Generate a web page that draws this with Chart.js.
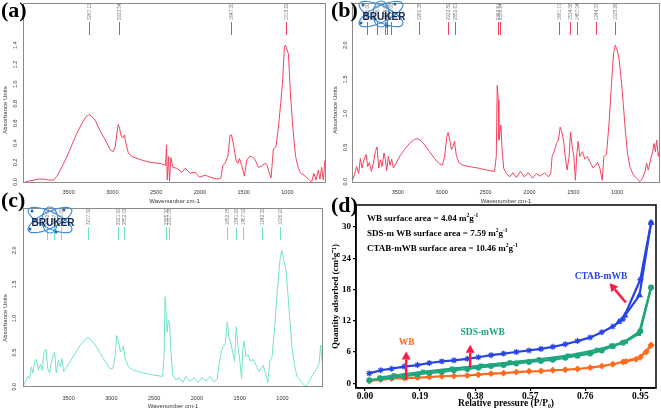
<!DOCTYPE html>
<html><head><meta charset="utf-8">
<script src="https://cdn.jsdelivr.net/npm/chart.js@4"></script>
<style>
html,body{margin:0;padding:0;background:#fff;}
#wrap{position:relative;width:661px;height:410px;overflow:hidden;background:#fff;}
canvas{position:absolute;}
.lt{position:absolute;font:bold 22px "Liberation Serif","Times New Roman",serif;line-height:22px;color:#000;z-index:5;}
</style></head><body>
<div id="wrap">
<canvas id="ca" width="330" height="205" style="left:0;top:0"></canvas>
<canvas id="cb" width="331" height="205" style="left:330px;top:0"></canvas>
<canvas id="cc" width="330" height="205" style="left:0;top:205px"></canvas>
<canvas id="cd" width="331" height="210" style="left:330px;top:200px"></canvas>
<div class="lt" style="left:1px;top:-1px">(a)</div>
<div class="lt" style="left:331px;top:-1px">(b)</div>
<div class="lt" style="left:1px;top:189px">(c)</div>
<div class="lt" style="left:331px;top:194px">(d)</div>
</div>
<script>
// ---------- FTIR (a) ----------
const wnA = [4021,3955,3899,3842,3785,3728,3671,3633,3595,3557,3519,3462,3405,3347,3298,3271,3245,3195,3138,3081,3024,2994,2967,2948,2933,2918,2899,2880,2861,2842,2815,2777,2682,2568,2453,2392,2381,2373,2358,2347,2332,2309,2263,2206,2168,2111,2054,2005,1940,1883,1807,1761,1738,1712,1681,1654,1639,1617,1586,1567,1548,1522,1491,1465,1434,1408,1370,1332,1301,1256,1237,1206,1187,1160,1130,1103,1077,1054,1035,1023,1004,989,978,966,944,925,906,875,848,810,761,723,697,674,647,628,609,590,571,559];
const absA = [-0.01,0.01,0.02,0.03,0.03,0.02,0.02,0.06,0.12,0.19,0.26,0.38,0.50,0.60,0.67,0.69,0.68,0.63,0.52,0.43,0.33,0.31,0.36,0.50,0.59,0.55,0.47,0.45,0.48,0.38,0.29,0.26,0.23,0.20,0.19,0.17,0.38,0.02,0.26,0.01,0.25,0.15,0.14,0.10,0.14,0.09,0.10,0.05,0.07,0.05,0.03,0.04,0.17,0.19,0.26,0.48,0.48,0.39,0.22,0.19,0.24,0.17,0.06,0.22,0.26,0.26,0.23,0.15,0.16,0.19,0.18,0.09,0.04,0.34,0.36,0.56,0.80,1.04,1.38,1.40,1.35,1.31,1.13,0.91,0.63,0.43,0.26,0.14,0.09,0.07,0.03,0.00,0.09,0.02,0.12,0.03,0.15,0.02,0.22,0.15];
const peaksA = [3267.13, 2923.54, 1647.30, 1018.29];
// ---------- FTIR (b) ----------
const wnB = [4021,3994,3968,3945,3926,3907,3884,3861,3842,3823,3800,3777,3755,3736,3717,3698,3679,3656,3641,3626,3607,3588,3569,3550,3519,3473,3424,3367,3309,3279,3245,3195,3138,3081,3024,2994,2967,2941,2926,2907,2888,2872,2853,2834,2804,2758,2682,2587,2492,2397,2378,2367,2355,2348,2336,2325,2313,2294,2263,2225,2187,2149,2103,2058,2012,1966,1920,1875,1829,1784,1757,1742,1719,1692,1670,1650,1631,1612,1593,1571,1548,1532,1513,1494,1476,1460,1445,1426,1396,1369,1342,1312,1274,1248,1225,1198,1171,1152,1122,1091,1065,1042,1023,1000,977,954,932,905,882,856,818,780,741,711,684,665,646,619,596,581,566,551,532,513];
const absB = [0.00,0.10,0.22,0.12,0.34,0.20,0.32,0.40,0.22,0.28,0.15,0.27,0.44,0.51,0.20,0.32,0.22,0.42,0.33,0.16,0.37,0.24,0.33,0.20,0.27,0.38,0.47,0.56,0.62,0.63,0.61,0.54,0.44,0.34,0.26,0.24,0.36,0.66,0.72,0.61,0.47,0.51,0.59,0.39,0.28,0.24,0.22,0.20,0.17,0.15,0.37,1.41,1.20,0.61,0.71,0.83,0.51,0.20,0.12,0.07,0.13,0.06,0.15,0.07,0.13,0.05,0.12,0.08,0.13,0.07,0.12,0.37,0.44,0.56,0.61,0.80,0.73,0.61,0.37,0.17,0.37,0.73,0.51,0.37,0.02,0.41,0.59,0.37,0.44,0.33,0.37,0.29,0.20,0.24,0.28,0.20,0.02,0.37,0.40,0.90,1.44,1.88,2.00,1.93,1.78,1.49,1.15,0.71,0.41,0.22,0.10,0.05,0.00,0.05,0.15,0.27,0.17,0.33,0.44,0.56,0.44,0.61,0.37,0.49];
const peaksB = [3850, 3736, 3648, 3622, 3572, 3260.38, 2922.89, 2852.61, 2362.51, 2330.24, 1661.71, 1534.06, 1457.04, 1244.33, 1025.26];
// ---------- FTIR (c) ----------
const wnC = [4033,4005,3978,3955,3935,3916,3897,3877,3854,3830,3807,3788,3764,3745,3722,3698,3679,3663,3644,3621,3597,3578,3558,3527,3481,3422,3364,3306,3278,3247,3189,3131,3072,3014,2983,2956,2936,2917,2893,2874,2859,2839,2800,2742,2625,2509,2400,2384,2372,2361,2349,2334,2322,2306,2283,2244,2205,2166,2128,2081,2034,1988,1941,1894,1848,1801,1762,1739,1715,1692,1669,1645,1626,1607,1583,1560,1540,1521,1498,1478,1463,1447,1428,1400,1373,1342,1311,1272,1245,1225,1198,1171,1148,1121,1089,1058,1027,1008,985,961,938,915,887,860,829,779,728,689,654,623,596,572,553,538,526];
const absC = [0.00,0.07,0.15,0.12,0.29,0.20,0.37,0.40,0.24,0.33,0.24,0.51,0.55,0.27,0.20,0.37,0.47,0.51,0.20,0.39,0.29,0.41,0.22,0.28,0.37,0.49,0.61,0.69,0.72,0.70,0.61,0.49,0.37,0.26,0.27,0.44,0.75,0.66,0.51,0.54,0.60,0.41,0.29,0.24,0.20,0.17,0.15,0.46,1.32,1.10,0.80,0.98,0.95,0.56,0.17,0.10,0.13,0.06,0.15,0.08,0.13,0.06,0.13,0.08,0.15,0.07,0.11,0.34,0.51,0.59,0.63,0.95,0.73,0.66,0.51,0.37,0.88,0.61,0.37,0.12,0.56,0.67,0.44,0.47,0.37,0.40,0.32,0.22,0.27,0.31,0.20,0.06,0.37,0.44,0.90,1.44,1.88,2.00,1.85,1.73,1.39,1.00,0.56,0.32,0.15,0.07,0.00,0.07,0.16,0.22,0.27,0.34,0.61,0.37,0.44];
const peaksC = [3752, 3667, 3585, 3277.32, 2921.90, 2852.02, 2365.30, 2327.05, 1652.75, 1541.29, 1457.02, 1242.32, 1026.90];
const irXTicks = [3500, 3000, 2500, 2000, 1500, 1000];
const irYTicksA = [0, 0.2, 0.4, 0.6, 0.8, 1.0, 1.2, 1.4];
const irYTicksBC = [0, 0.5, 1.0, 1.5, 2.0];
// ---------- BET (d) ----------
const pAds = [0.015,0.054,0.092,0.135,0.181,0.222,0.265,0.307,0.353,0.391,0.435,0.478,0.522,0.566,0.607,0.648,0.691,0.733,0.777,0.817,0.855,0.890,0.950,0.987];
const ctabAds = [1.9,2.5,2.8,3.2,3.5,3.9,4.2,4.4,4.7,5.0,5.4,5.7,6.0,6.3,6.6,7.0,7.5,8.1,8.8,9.8,10.9,12.3,19.9,30.8];
const sdsAds = [0.6,0.9,1.1,1.35,1.7,2.0,2.2,2.5,2.75,3.0,3.3,3.5,3.8,4.1,4.3,4.5,4.9,5.3,5.7,6.3,7.1,7.8,10.0,18.4];
const wbAds = [0.45,0.7,0.9,1.0,1.1,1.2,1.35,1.4,1.5,1.65,1.85,1.95,2.15,2.3,2.35,2.5,2.6,2.75,3.0,3.3,3.65,4.1,5.0,7.3];
const ctabDesP = [0.987,0.947,0.897,0.876];
const ctabDes = [30.8,16.9,13.0,11.8];
const sdsDesP = [0.987,0.945,0.90,0.85,0.80,0.70,0.60,0.50,0.40,0.30,0.20,0.10,0.05];
const sdsDes = [18.4,9.5,8.0,7.2,6.4,5.3,4.6,4.0,3.4,2.8,2.2,1.5,1.1];
const wbDesP = [0.987,0.97,0.935,0.90];
const wbDes = [7.3,6.0,4.6,4.2];
const dXTicks = [0.00, 0.19, 0.38, 0.57, 0.76, 0.95];
const dYTicks = [0, 6, 12, 18, 24, 30];
const surfaceNames = ['WB', 'SDS-m WB', 'CTAB-mWB'];
const surfaceAreas = [4.04, 7.59, 10.46];
const seriesNames = ['CTAB-mWB', 'SDS-mWB', 'WB'];
const seriesLabelP = [0.814, 0.406, 0.144];
const seriesLabelQ = [20.5, 9.7, 7.8];
const arrowFrom = [[0.900, 15.5], [0.363, 3.0], [0.142, 0.6]];
const arrowTo = [[0.844, 19.2], [0.363, 7.4], [0.142, 6.1]];

const IRFONT = '"Liberation Sans", Arial, sans-serif';
const SERIF = '"Liberation Serif", "Times New Roman", serif';

function fitBox(s, w, h) {
  if (w != null) s.width = w;
  if (h != null) s.height = h;
  s.paddingLeft = 0; s.paddingRight = 0; s.paddingTop = 0; s.paddingBottom = 0;
}

function drawLogo(ctx, cx, cy) {
  ctx.save();
  ctx.strokeStyle = '#3d8fd6'; ctx.lineWidth = 1.2;
  ctx.beginPath(); ctx.ellipse(cx, cy, 24, 8, -0.45, 0, Math.PI * 2); ctx.stroke();
  ctx.beginPath(); ctx.ellipse(cx, cy, 24, 8, 0.45, 0, Math.PI * 2); ctx.stroke();
  ctx.beginPath(); ctx.ellipse(cx, cy, 8, 13, 0, 0, Math.PI * 2); ctx.stroke();
  ctx.fillStyle = '#2a62b8';
  [[-18, -9], [14, -10], [-20, 9], [6, 12]].forEach(([dx, dy]) => { ctx.beginPath(); ctx.arc(cx + dx, cy + dy, 1.5, 0, Math.PI * 2); ctx.fill(); });
  ctx.fillStyle = '#17264d';
  ctx.font = 'bold 10px ' + IRFONT;
  ctx.textAlign = 'center'; ctx.textBaseline = 'middle';
  ctx.fillText('BRUKER', cx + 3, cy + 3);
  ctx.restore();
}

function irChart(id, wn, ab, peaks, o) {
  const pts = wn.map((w, i) => ({x: w, y: ab[i]}));
  const deco = {
    id: 'deco' + id,
    afterDraw(chart) {
      const {ctx, chartArea: a, scales: {x}} = chart;
      ctx.save();
      ctx.strokeStyle = '#8a8a8a'; ctx.lineWidth = 1;
      ctx.strokeRect(a.left + 0.5, a.top + 0.5, a.right - a.left - 1, a.bottom - a.top - 1);
      peaks.forEach(p => {
        const px = Math.round(x.getPixelForValue(p)) + 0.5;
        ctx.strokeStyle = o.color; ctx.lineWidth = 1;
        ctx.beginPath(); ctx.moveTo(px, 22); ctx.lineTo(px, 35); ctx.stroke();
        ctx.save();
        ctx.translate(px, 20); ctx.rotate(-Math.PI / 2);
        ctx.fillStyle = '#7a7a7a'; ctx.font = '4.6px ' + IRFONT;
        ctx.textAlign = 'left'; ctx.textBaseline = 'middle';
        ctx.fillText(p.toFixed(2), 0, 0);
        ctx.restore();
      });
      ctx.save();
      ctx.translate(5, o.ytY); ctx.rotate(-Math.PI / 2);
      ctx.fillStyle = '#333'; ctx.font = '6px ' + IRFONT;
      ctx.textAlign = 'center'; ctx.textBaseline = 'middle';
      ctx.fillText('Absorbance Units', 0, 0);
      ctx.restore();
      if (o.logo) drawLogo(ctx, o.logo[0], o.logo[1]);
      ctx.restore();
    }
  };
  return new Chart(document.getElementById(id), {
    type: 'scatter',
    data: {datasets: [{data: pts, showLine: true, borderColor: o.color, borderWidth: 1, pointRadius: 0, tension: 0}]},
    options: {
      responsive: false, animation: false, devicePixelRatio: 1,
      layout: {autoPadding: false, padding: {top: o.top, right: o.right, left: 0, bottom: 0}},
      plugins: {legend: {display: false}, tooltip: {enabled: false}},
      scales: {
        x: {
          type: 'linear', reverse: true, min: o.xmin, max: o.xmax,
          afterBuildTicks: s => { s.ticks = irXTicks.map(v => ({value: v})); },
          afterFit: s => fitBox(s, null, o.xh),
          grid: {display: false, drawTicks: false}, border: {display: false},
          ticks: {callback: v => String(v), font: {family: IRFONT, size: 5.5}, color: '#333', padding: o.xpad, maxRotation: 0, autoSkip: false},
          title: {display: true, text: 'Wavenumber cm-1', font: {family: IRFONT, size: 6}, color: '#333', padding: {top: 0, bottom: 0}}
        },
        y: {
          type: 'linear', min: o.ymin, max: o.ymax,
          afterBuildTicks: s => { s.ticks = o.yticks.map(v => ({value: v})); },
          afterFit: s => fitBox(s, o.yw, null),
          grid: {display: false, drawTicks: false}, border: {display: false},
          ticks: {callback: v => v.toFixed(1), minRotation: 90, maxRotation: 90, crossAlign: 'center', padding: o.ypad, font: {family: IRFONT, size: 5.5}, color: '#333', autoSkip: false}
        }
      }
    },
    plugins: [deco]
  });
}

irChart('ca', wnA, absA, peaksA, {color: '#f4435f', xmin: 559, xmax: 4021, ymin: -0.01, ymax: 1.83, yticks: irYTicksA, top: 3, right: 4, xh: 22, yw: 23, xpad: 6, ypad: 3.5, ytY: 110});
irChart('cb', wnB, absB, peaksB, {color: '#f4435f', xmin: 513, xmax: 4021, ymin: -0.02, ymax: 2.62, yticks: irYTicksBC, top: 3, right: 1, xh: 22, yw: 22, xpad: 6, ypad: 3, ytY: 110, logo: [51, 14]});
irChart('cc', wnC, absC, peaksC, {color: '#72e3cb', xmin: 526, xmax: 4033, ymin: -0.005, ymax: 2.62, yticks: irYTicksBC, top: 3, right: 7, xh: 23, yw: 23, xpad: 8, ypad: 5, ytY: 113, logo: [50, 15]});

// ---------- panel d ----------
const BLUE = '#2844e6', GREEN = '#1ea67e', ORANGE = '#ff6a1c', RED = '#ff1a44';
function xy(px, py) { return px.map((p, i) => ({x: p, y: py[i]})); }

function supText(ctx, parts, x, y, size) {
  let cx = x;
  parts.forEach(([t, sup]) => {
    const fs = sup ? size * 0.62 : size;
    ctx.font = 'bold ' + fs + 'px ' + SERIF;
    ctx.fillText(t, cx, sup ? y - size * 0.4 : y);
    cx += ctx.measureText(t).width;
  });
}

const decoD = {
  id: 'decoD',
  afterDraw(chart) {
    const {ctx, chartArea: a, scales: {x, y}} = chart;
    ctx.save();
    ctx.strokeStyle = '#000'; ctx.lineWidth = 1.5;
    ctx.strokeRect(a.left, a.top, a.right - a.left, a.bottom - a.top);
    ctx.fillStyle = '#000'; ctx.textBaseline = 'alphabetic'; ctx.textAlign = 'left';
    surfaceNames.forEach((n, i) => {
      supText(ctx, [[n + ' surface area = ' + surfaceAreas[i].toFixed(2) + ' m', 0], ['2', 1], ['g', 0], ['-1', 1]], a.left + 11, a.top + 16 + i * 15, 9);
    });
    // arrows
    ctx.strokeStyle = RED; ctx.fillStyle = RED; ctx.lineWidth = 2.5;
    arrowFrom.forEach((f, i) => {
      const x0 = x.getPixelForValue(f[0]), y0 = y.getPixelForValue(f[1]);
      const x1 = x.getPixelForValue(arrowTo[i][0]), y1 = y.getPixelForValue(arrowTo[i][1]);
      const ang = Math.atan2(y1 - y0, x1 - x0), hl = 8, hw = 4.5;
      const bx = x1 - hl * Math.cos(ang), by = y1 - hl * Math.sin(ang);
      ctx.beginPath(); ctx.moveTo(x0, y0); ctx.lineTo(bx, by); ctx.stroke();
      ctx.beginPath(); ctx.moveTo(x1, y1);
      ctx.lineTo(bx + hw * Math.sin(ang), by - hw * Math.cos(ang));
      ctx.lineTo(bx - hw * Math.sin(ang), by + hw * Math.cos(ang));
      ctx.closePath(); ctx.fill();
    });
    // series labels
    const cols = [BLUE, GREEN, ORANGE];
    ctx.font = 'bold 9.5px ' + SERIF; ctx.textAlign = 'center'; ctx.textBaseline = 'middle';
    seriesNames.forEach((n, i) => {
      ctx.fillStyle = cols[i];
      ctx.fillText(n, x.getPixelForValue(seriesLabelP[i]), y.getPixelForValue(seriesLabelQ[i]));
    });
    ctx.restore();
  }
};

function ds(data, color, style, r) {
  return {data, showLine: true, borderColor: color, backgroundColor: color, borderWidth: 2.2, pointRadius: r, pointStyle: style, pointBorderWidth: 1.2, tension: 0};
}

new Chart(document.getElementById('cd'), {
  type: 'scatter',
  data: {datasets: [
    ds(xy(pAds, ctabAds), BLUE, 'star', 3),
    ds(xy(ctabDesP, ctabDes), BLUE, 'triangle', 2.8),
    ds(xy(pAds, sdsAds), GREEN, 'circle', 2.4),
    ds(xy(sdsDesP, sdsDes), GREEN, 'rect', 2.2),
    ds(xy(pAds, wbAds), ORANGE, 'rectRot', 2.6),
    ds(xy(wbDesP, wbDes), ORANGE, 'rectRot', 2.6)
  ]},
  options: {
    responsive: false, animation: false, devicePixelRatio: 1,
    layout: {autoPadding: false, padding: {top: 5, right: 5, left: 0, bottom: 0}},
    plugins: {legend: {display: false}, tooltip: {enabled: false}},
    scales: {
      x: {
        type: 'linear', min: -0.031, max: 1.004,
        afterBuildTicks: s => { s.ticks = dXTicks.map(v => ({value: v})); },
        afterFit: s => fitBox(s, null, 22),
        grid: {drawOnChartArea: false, drawTicks: true, tickLength: 3, color: '#000', lineWidth: 1.2},
        border: {display: true, color: '#000', width: 1.5},
        ticks: {callback: v => v.toFixed(2), font: {family: SERIF, size: 9.5, weight: 'bold'}, color: '#000', padding: 0, maxRotation: 0, autoSkip: false},
        title: {display: true, text: 'Relative pressure (P/P\u2080)', font: {family: SERIF, size: 9.5, weight: 'bold'}, color: '#000', padding: {top: 0, bottom: 1}}
      },
      y: {
        type: 'linear', min: -0.9, max: 34.2,
        afterBuildTicks: s => { s.ticks = dYTicks.map(v => ({value: v})); },
        afterFit: s => fitBox(s, 26, null),
        grid: {drawOnChartArea: false, drawTicks: true, tickLength: 3, color: '#000', lineWidth: 1.2},
        border: {display: true, color: '#000', width: 1.5},
        ticks: {callback: v => String(v), font: {family: SERIF, size: 9, weight: 'bold'}, color: '#000', padding: 2, autoSkip: false},
        title: {display: true, text: 'Quantity adsorbed (cm\u00b3g\u207b\u00b9)', font: {family: SERIF, size: 9, weight: 'bold'}, color: '#000', padding: {top: 0.5, bottom: 0}}
      }
    }
  },
  plugins: [decoD]
});
</script>
</body></html>
